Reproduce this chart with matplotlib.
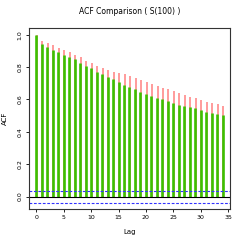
import numpy as np
import matplotlib
matplotlib.use("Agg")
import matplotlib.pyplot as plt

# ACF values, lags 0..34
lags = np.arange(35)
acf_red = [1.0, 0.963, 0.947, 0.935, 0.918, 0.906, 0.891, 0.877, 0.864, 0.838,
           0.823, 0.809, 0.793, 0.782, 0.772, 0.762, 0.757, 0.745, 0.731, 0.720,
           0.708, 0.696, 0.683, 0.673, 0.665, 0.654, 0.640, 0.628, 0.617, 0.609,
           0.597, 0.586, 0.576, 0.570, 0.560]
acf_green = [1.0, 0.940, 0.926, 0.907, 0.895, 0.877, 0.860, 0.848, 0.825, 0.807,
             0.793, 0.772, 0.756, 0.741, 0.725, 0.710, 0.690, 0.677, 0.663, 0.648,
             0.636, 0.622, 0.609, 0.601, 0.591, 0.578, 0.568, 0.560, 0.554, 0.548,
             0.535, 0.525, 0.517, 0.510, 0.504]
ci = 0.037

fig = plt.figure(figsize=(2.45, 2.45), dpi=100)
ax = fig.add_axes([0.118, 0.147, 0.821, 0.739])

ax.vlines(lags + 0.12, 0, acf_red, color="#ff5555", alpha=0.75, lw=1.1)
ax.vlines(lags, 0, acf_green, color="#3cc000", lw=1.9)
ax.axhline(0, color="black", lw=0.8)
ax.axhline(ci, color="#3333ff", lw=0.8, ls=(0, (2.5, 1.5)))
ax.axhline(-ci, color="#3333ff", lw=0.8, ls=(0, (2.5, 1.5)))

ax.set_xlim(-1.36, 35.36)
ax.set_ylim(-0.0764, 1.0414)
ax.set_xticks([0, 5, 10, 15, 20, 25, 30, 35])
ax.set_yticks([0.0, 0.2, 0.4, 0.6, 0.8, 1.0])
ax.set_yticklabels(["0.0", "0.2", "0.4", "0.6", "0.8", "1.0"], rotation=90, va="center")
ax.tick_params(labelsize=4.5, length=2.5, width=0.6, pad=2)
for s in ax.spines.values():
    s.set_linewidth(0.8)
    s.set_color("#333333")

ax.set_xlabel("Lag", fontsize=5, labelpad=6)
ax.set_ylabel("ACF", fontsize=5, labelpad=7)
ax.set_title("ACF Comparison ( S(100) )", fontsize=5.5, pad=10)

fig.savefig("out.png", dpi=100)
